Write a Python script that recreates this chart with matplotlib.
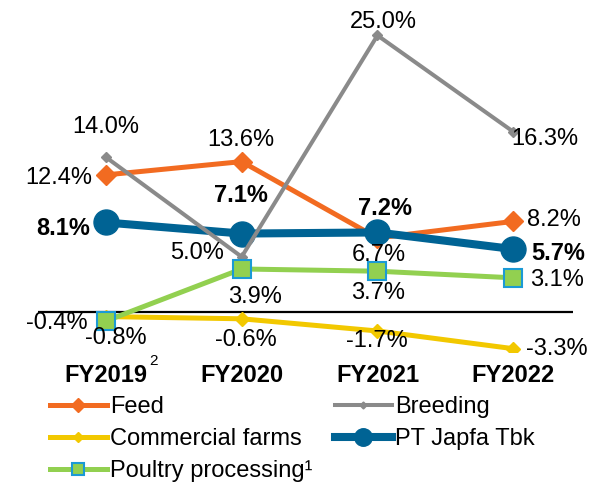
import matplotlib
matplotlib.use("Agg")
import matplotlib.pyplot as plt

plt.rcParams['font.family'] = ['Liberation Sans', 'DejaVu Sans']

years = ['FY2019', 'FY2020', 'FY2021', 'FY2022']
feed = [12.4, 13.6, 6.7, 8.2]
breeding = [14.0, 5.0, 25.0, 16.3]
commercial = [-0.4, -0.6, -1.7, -3.3]
poultry = [-0.8, 3.9, 3.7, 3.1]
japfa = [8.1, 7.1, 7.2, 5.7]

# label offsets in pixels (dx, dy) from each point
feed_off = [(-47, -3), (-1, 22), (1, -17), (41, 1)]
breed_off = [(0, 30), (-45, 4), (6, 13), (32, -7)]
comm_off = [(-49, -6), (4, -21), (-1, -10), (44, 0)]
poul_off = [(10, -17), (13, -28), (1, -22), (44, -2)]
japfa_off = [(-43, -6), (-1, 38), (8, 24), (45, -4)]

fig = plt.figure(figsize=(6, 4.83), dpi=100)
ax = fig.add_axes([38/600, 1 - 352/483, 535/600, 352/483])
x = list(range(len(years)))

ax.axhline(0, color='black', lw=1.6, zorder=1)

ax.plot(x, feed, color='#F26B21', lw=3.6, marker='D', ms=10, label='Feed', zorder=2)
ax.plot(x, commercial, color='#F2C800', lw=3.6, marker='D', ms=7, label='Commercial farms', zorder=3)
ax.plot(x, japfa, color='#006394', lw=5.8, marker='o', ms=18, label='PT Japfa Tbk', zorder=4)
ax.plot(x, breeding, color='#8A8A8A', lw=2.9, marker='D', ms=5, label='Breeding', zorder=5)
ax.plot(x, poultry, color='#92D050', lw=3.6, marker='s', ms=13, mec='#1B9AD5', mew=1.5,
        label='Poultry processing\u00b9', zorder=6)

def put_labels(vals, offs, bold=False):
    for i, (v, o) in enumerate(zip(vals, offs)):
        ax.annotate(f'{v:.1f}%', (i, v), xytext=o, textcoords='offset pixels',
                    ha='center', va='center', fontsize=17,
                    fontweight='bold' if bold else 'normal', zorder=10)

put_labels(feed, feed_off)
put_labels(breeding, breed_off)
put_labels(commercial, comm_off)
put_labels(poultry, poul_off)
put_labels(japfa, japfa_off, bold=True)

ax.set_xlim(-0.5, 3.44)
ax.set_ylim(-3.6, 28.2)
ax.set_xticks(x)
ax.set_xticklabels(years, fontsize=17, fontweight='bold')
ax.tick_params(axis='x', length=0, pad=9)
ax.set_yticks([])
for s in ax.spines.values():
    s.set_visible(False)

fig.text(153/600, 1 - 361/483, '2', fontsize=11, ha='center', va='center')

h, l = ax.get_legend_handles_labels()
order = [0, 1, 4, 3, 2]
ax.legend([h[i] for i in order], [l[i] for i in order], ncol=2, frameon=False,
          loc='upper left', bbox_to_anchor=(50/600, 1 - 396/483), bbox_transform=fig.transFigure,
          fontsize=17, handlelength=2.4, handletextpad=0.15, columnspacing=0.95,
          labelspacing=0.42, markerscale=0.7, borderpad=0, borderaxespad=0)

fig.savefig('out.png', dpi=100)
